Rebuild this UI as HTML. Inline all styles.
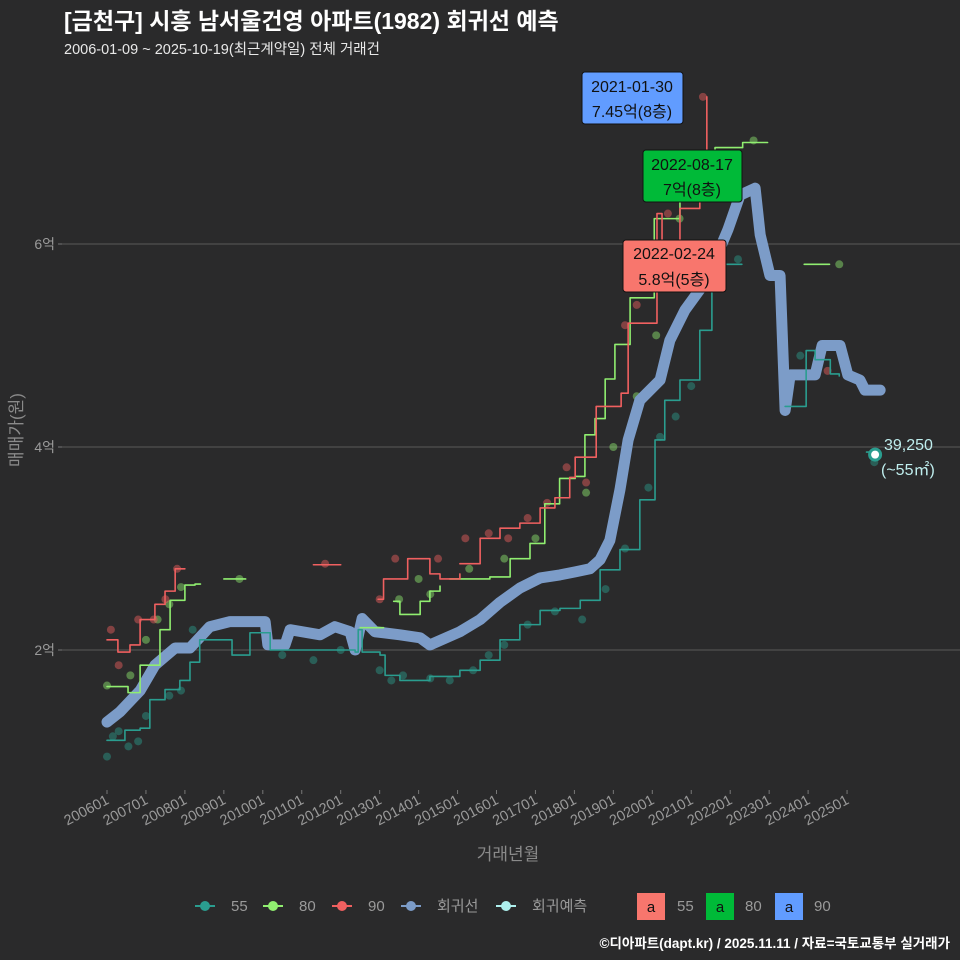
<!DOCTYPE html>
<html><head><meta charset="utf-8">
<style>
body{margin:0;background:#2a2a2b;overflow:hidden;}
svg{display:block;}
svg text{font-family:"Liberation Sans","Noto Sans CJK KR",sans-serif;}
</style></head>
<body>
<svg id="chart" width="960" height="960" viewBox="0 0 960 960" xmlns="http://www.w3.org/2000/svg">
<rect width="960" height="960" fill="#2a2a2b"/>
<text x="64" y="29" fill="#ffffff" font-size="23" font-weight="bold">[금천구] 시흥 남서울건영 아파트(1982) 회귀선 예측</text>
<text x="64" y="54" fill="#e8e8e8" font-size="14.5">2006-01-09 ~ 2025-10-19(최근계약일) 전체 거래건</text>
<g id="grid"></g>
<g id="marks"></g>
<g id="axes"></g>
<text x="508" y="860" fill="#8a8a8a" font-size="17" text-anchor="middle">거래년월</text>
<text transform="translate(22,430) rotate(-90)" fill="#8a8a8a" font-size="17" text-anchor="middle">매매가(원)</text>

<g>
<rect x="582" y="72" width="101" height="52" rx="3" fill="#619cff" stroke="#111"/>
<text x="632" y="92" text-anchor="middle" font-size="16" fill="#111">2021-01-30</text>
<text x="632" y="117" text-anchor="middle" font-size="16" fill="#111">7.45억(8층)</text>
</g>
<g>
<rect x="643" y="150" width="99" height="52" rx="3" fill="#00ba38" stroke="#111"/>
<text x="692" y="170" text-anchor="middle" font-size="16" fill="#111">2022-08-17</text>
<text x="692" y="195" text-anchor="middle" font-size="16" fill="#111">7억(8층)</text>
</g>
<g>
<rect x="623" y="240" width="103" height="52" rx="3" fill="#f8766d" stroke="#111"/>
<text x="674" y="259" text-anchor="middle" font-size="16" fill="#111">2022-02-24</text>
<text x="674" y="285" text-anchor="middle" font-size="16" fill="#111">5.8억(5층)</text>
</g>
<text x="884" y="450" font-size="16" fill="#bfeeee">39,250</text>
<text x="881" y="475" font-size="16" fill="#bfeeee">(~55㎡)</text>

<g font-size="15" fill="#9a9a9a">
<g><line x1="195" y1="906" x2="215" y2="906" stroke="#2a9d8f" stroke-width="2"/><circle cx="205" cy="906" r="5" fill="#2a9d8f"/><text x="231" y="911">55</text></g>
<g><line x1="263" y1="906" x2="283" y2="906" stroke="#90ee70" stroke-width="2"/><circle cx="273" cy="906" r="5" fill="#90ee70"/><text x="299" y="911">80</text></g>
<g><line x1="332" y1="906" x2="352" y2="906" stroke="#f06060" stroke-width="2"/><circle cx="342" cy="906" r="5" fill="#f06060"/><text x="368" y="911">90</text></g>
<g><line x1="401" y1="906" x2="421" y2="906" stroke="#7c9cc8" stroke-width="2"/><circle cx="411" cy="906" r="5" fill="#7c9cc8"/><text x="437" y="911">회귀선</text></g>
<g><line x1="496" y1="906" x2="516" y2="906" stroke="#aef0ee" stroke-width="2"/><circle cx="506" cy="906" r="5" fill="#aef0ee"/><text x="532" y="911">회귀예측</text></g>
<g><rect x="637" y="893" width="28" height="27" fill="#f8766d"/><text x="651" y="912" text-anchor="middle" fill="#111">a</text><text x="677" y="911">55</text></g>
<g><rect x="706" y="893" width="28" height="27" fill="#00ba38"/><text x="720" y="912" text-anchor="middle" fill="#111">a</text><text x="745" y="911">80</text></g>
<g><rect x="775" y="893" width="28" height="27" fill="#619cff"/><text x="789" y="912" text-anchor="middle" fill="#111">a</text><text x="814" y="911">90</text></g>
</g>
<text x="950" y="948" text-anchor="end" font-size="13.5" font-weight="bold" fill="#ffffff">©디아파트(dapt.kr) / 2025.11.11 / 자료=국토교통부 실거래가</text>
</svg>
<script>
const yTicks=[2,4,6];
const xTickLabels=["200601","200701","200801","200901","201001","201101","201201","201301","201401","201501","201601","201701","201801","201901","202001","202101","202201","202301","202401","202501"];
const regX=[2006.0,2006.33,2006.85,2007.23,2007.75,2008.13,2008.64,2009.16,2010.06,2010.13,2010.57,2010.7,2011.47,2011.85,2012.24,2012.37,2012.55,2012.88,2013.52,2014.04,2014.29,2015.06,2015.58,2016.09,2016.6,2017.12,2017.63,2018.02,2018.4,2018.66,2018.91,2019.17,2019.38,2019.68,2020.2,2020.45,2020.84,2021.22,2021.61,2021.94,2022.25,2022.64,2022.77,2023.02,2023.28,2023.41,2023.54,2024.18,2024.36,2024.82,2025.02,2025.33,2025.46,2025.85];
const regY=[1.29,1.39,1.6,1.85,2.02,2.02,2.23,2.28,2.28,2.05,2.05,2.2,2.15,2.23,2.18,2.0,2.31,2.18,2.15,2.12,2.05,2.18,2.3,2.47,2.61,2.71,2.74,2.77,2.8,2.89,3.08,3.58,4.07,4.46,4.66,5.05,5.35,5.55,5.84,6.14,6.48,6.55,6.09,5.69,5.69,4.36,4.71,4.71,5.0,5.0,4.71,4.66,4.56,4.56];
const s55X=[2006.0,2006.46,2006.85,2007.1,2007.49,2007.87,2008.13,2008.38,2009.16,2009.21,2009.54,2009.67,2010.06,2010.19,2011.73,2012.37,2012.45,2012.55,2013.01,2013.14,2013.52,2014.04,2014.29,2015.06,2015.58,2016.09,2016.6,2017.12,2017.63,2018.15,2018.66,2019.17,2019.68,2020.07,2020.32,2020.71,2021.22,2021.53,2022.0,2022.3];
const s55Y=[1.11,1.21,1.23,1.51,1.61,1.7,1.88,2.1,2.1,1.95,1.95,2.17,2.17,2.0,2.0,1.98,2.2,1.98,1.95,1.75,1.7,1.7,1.74,1.8,1.9,2.1,2.25,2.39,2.41,2.49,2.79,2.99,3.48,4.07,4.46,4.66,5.15,5.8,5.8,5.8];
const s55bX=[2023.41,2023.8,2023.95,2024.18,2024.57,2024.8];
const s55bY=[4.4,4.4,4.95,4.86,4.72,4.7];
const s55cX=[2025.5,2025.72];
const s55cY=[3.95,3.9];
const s80X=[2006.0,2006.46,2006.54,2006.85,2007.36,2007.62,2008.0,2008.26,2008.4];
const s80Y=[1.64,1.64,1.58,1.85,2.2,2.49,2.64,2.65,2.65];
const s80bX=[2013.36,2013.52,2014.04,2014.29,2014.55];
const s80bY=[2.48,2.35,2.48,2.58,2.63];
const s80cX=[2014.8,2015.83,2016.35,2016.86,2017.24,2017.62,2018.02,2018.27,2018.53,2018.79,2019.04,2019.43,2019.74,2020.05,2020.45,2020.71,2021.22,2021.61,2022.32,2022.96];
const s80cY=[2.7,2.72,2.9,3.05,3.44,3.69,3.71,4.12,4.28,4.67,5.01,5.47,5.47,6.25,6.25,6.42,6.57,6.95,7.0,7.0];
const s90X=[2006.0,2006.28,2006.59,2006.85,2007.23,2007.49,2007.75,2008.0];
const s90Y=[2.1,1.98,2.05,2.3,2.45,2.58,2.8,2.8];
const s90bX=[2012.96,2013.1,2013.62,2013.72,2014.04,2014.29,2014.55,2015.06];
const s90bY=[2.5,2.7,2.7,2.9,2.9,2.75,2.7,2.75];
const s90cX=[2015.06,2015.58,2016.09,2016.6,2017.12,2017.5,2017.88,2018.02,2018.4,2018.56,2018.97,2019.2,2019.38,2019.73,2020.12,2020.25,2020.38,2020.71,2021.22,2021.4];
const s90cY=[2.85,3.1,3.2,3.25,3.4,3.5,3.7,3.9,3.9,4.4,4.4,4.53,5.22,5.22,6.3,5.6,5.9,6.35,6.5,7.45];
const seg80X=[2009.0,2009.56,2012.5,2013.1,2023.9,2024.55];
const seg80Y=[2.7,2.7,2.22,2.22,5.8,5.8];
const seg90X=[2011.3,2012.0];
const seg90Y=[2.84,2.84];
const dot55X=[2006.0,2006.15,2006.3,2006.55,2006.8,2007.0,2007.6,2007.9,2008.2,2010.5,2011.3,2012.0,2013.0,2013.3,2013.6,2014.3,2014.8,2015.4,2015.8,2016.2,2016.8,2017.5,2018.2,2018.8,2019.3,2019.9,2020.2,2020.6,2021.0,2022.2,2023.8,2025.7];
const dot55Y=[0.95,1.15,1.2,1.05,1.1,1.35,1.55,1.6,2.2,1.95,1.9,2.0,1.8,1.7,1.75,1.72,1.7,1.8,1.95,2.05,2.25,2.38,2.3,2.6,3.0,3.6,4.1,4.3,4.6,5.85,4.9,3.85];
const dot80X=[2006.0,2006.6,2007.0,2007.3,2007.6,2007.9,2009.4,2013.5,2014.0,2014.3,2015.3,2016.2,2017.0,2018.3,2019.0,2019.6,2020.1,2020.7,2022.6,2024.8];
const dot80Y=[1.65,1.75,2.1,2.3,2.45,2.62,2.7,2.5,2.7,2.55,2.8,2.9,3.1,3.55,4.0,4.5,5.1,6.25,7.02,5.8];
const dot90X=[2006.1,2006.3,2006.8,2007.2,2007.5,2007.8,2011.6,2013.0,2013.4,2014.5,2015.2,2015.8,2016.3,2016.8,2017.3,2017.8,2018.3,2019.3,2019.6,2020.4,2021.3,2024.5];
const dot90Y=[2.2,1.85,2.3,2.3,2.5,2.8,2.85,2.5,2.9,2.9,3.1,3.15,3.1,3.3,3.45,3.8,3.65,5.2,5.4,6.3,7.45,4.75];
const predX=[2025.72];
const predY=[3.925];

const X=v=>107+(v-2006)*38.95;
const Y=v=>650-(v-2)*101.5;
const NS="http://www.w3.org/2000/svg";
const grid=document.getElementById('grid'),marks=document.getElementById('marks'),axes=document.getElementById('axes');
function mk(tag,attrs,parent){const e=document.createElementNS(NS,tag);for(const k in attrs)e.setAttribute(k,attrs[k]);parent.appendChild(e);return e;}
yTicks.forEach(t=>{
  const l=mk('line',{x1:62,x2:960,y1:Y(t),y2:Y(t),stroke:'#5a5a5a','stroke-width':1},grid);
  
  
  const tk=mk('line',{x1:58,x2:62,y1:Y(t),y2:Y(t),stroke:'#777'},axes);
  
  
  const tx=mk('text',{x:55,y:Y(t)+5,'text-anchor':'end','font-size':14,fill:'#9a9a9a'},axes);
  tx.textContent=t+'억';
  
  
});
xTickLabels.forEach((s,i)=>{
  const x=X(2006+i);
  const tk=mk('line',{x1:x,x2:x,y1:790,y2:794,stroke:'#777'},axes);
  
  
  const tx=mk('text',{x:x+3,y:803,'text-anchor':'end','font-size':14.5,fill:'#9a9a9a',transform:`rotate(-28 ${x+3} 803)`},axes);
  tx.textContent=s;
  
  
});
function dots(xs,ys,col,name){xs.forEach((v,i)=>{
  const c=mk('circle',{cx:X(v),cy:Y(ys[i]),r:4,fill:col,'fill-opacity':0.45},marks);
  
  
});}
function line(xs,ys,col,w,name,step){
  let pts=[];
  xs.forEach((v,i)=>{
    if(step&&i>0)pts.push(X(v)+','+Y(ys[i-1]));
    pts.push(X(v)+','+Y(ys[i]));
  });
  const p=mk('polyline',{points:pts.join(' '),fill:'none',stroke:col,'stroke-width':w,'stroke-linejoin':'round','stroke-linecap':'round'},marks);
  
  
}
dots(dot55X,dot55Y,'#2a9d8f','point-55');
dots(dot80X,dot80Y,'#90ee70','point-80');
dots(dot90X,dot90Y,'#f06060','point-90');
line(regX,regY,'#7c9cc8',11,'regression-line',false);
line(s55X,s55Y,'#2a9d8f',1.6,'line-55',true);
line(s55bX,s55bY,'#2a9d8f',1.6,'line-55-recent',true);
line(s55cX,s55cY,'#2a9d8f',1.6,'line-55-latest',true);
line(s80X,s80Y,'#90ee70',1.6,'line-80-early',true);
line(s80bX,s80bY,'#90ee70',1.6,'line-80-mid',true);
line(s80cX,s80cY,'#90ee70',1.6,'line-80',true);
line(s90X,s90Y,'#f06060',1.6,'line-90-early',true);
line(s90bX,s90bY,'#f06060',1.6,'line-90-mid',true);
line(s90cX,s90cY,'#f06060',1.6,'line-90',true);
for(let i=0;i<seg80X.length;i+=2){line([seg80X[i],seg80X[i+1]],[seg80Y[i],seg80Y[i+1]],'#90ee70',1.6,'segment-80',false);}
for(let i=0;i<seg90X.length;i+=2){line([seg90X[i],seg90X[i+1]],[seg90Y[i],seg90Y[i+1]],'#f06060',1.6,'segment-90',false);}
predX.forEach((v,i)=>{
  const c=mk('circle',{cx:X(v),cy:Y(predY[i]),r:5.5,fill:'#fff',stroke:'#2a9d8f','stroke-width':3},marks);
  
  
});
</script>
</body></html>
